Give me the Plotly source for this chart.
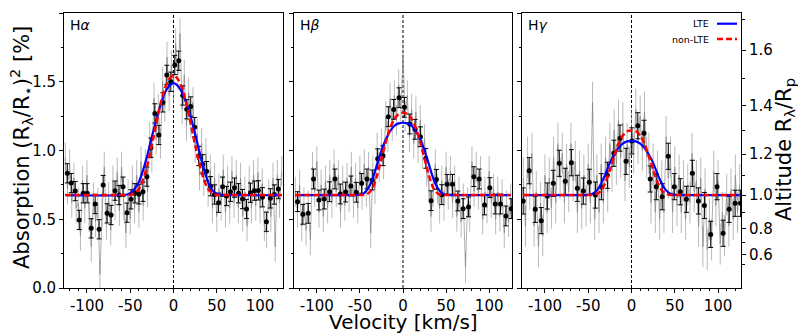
import numpy as np
import plotly.graph_objects as go

# ---------------- data ----------------
panel_labels = ["H<i>α</i>", "H<i>β</i>", "H<i>γ</i>"]

# raw (high resolution) spectra, sampled every 2.5 km/s from -125 to 125
raw_v = np.arange(-125, 125.01, 2.5)
raw_a = [0.95, 0.72, 0.90, 0.62, 0.80, 0.58, 0.62, 0.38, 0.78, 0.58, 0.82, 0.52, 0.30, 0.66, 0.48, 0.62, 0.10,
         0.55, 0.88, 0.46, 0.66, 0.42, 0.78, 0.60, 0.84, 0.56, 0.88, 0.60, 0.40, 0.68, 0.50, 0.78, 0.58, 0.82,
         0.55, 0.92, 0.60, 0.90, 0.70, 1.10, 0.95, 1.38, 1.08, 1.30, 1.05, 1.50, 1.32, 1.68, 1.40, 1.62, 1.45,
         1.78, 1.55, 1.85, 1.30, 1.55, 1.18, 1.42, 1.20, 1.35, 1.02, 1.12, 0.82, 1.05, 0.78, 0.98, 0.70, 0.86,
         0.58, 0.80, 0.52, 0.72, 0.60, 0.86, 0.55, 0.78, 0.58, 0.85, 0.62, 0.82, 0.58, 0.80, 0.52, 0.70, 0.45,
         0.78, 0.58, 0.82, 0.60, 0.84, 0.58, 0.76, 0.45, 0.40, 0.68, 0.52, 0.80, 0.30, 0.82, 0.62, 0.85]
raw_b = [0.70, 0.55, 0.75, 0.45, 0.62, 0.42, 0.60, 0.35, 0.88, 0.70, 0.92, 0.55, 0.75, 0.52, 0.78, 0.58, 0.82,
         0.62, 0.90, 0.70, 0.82, 0.55, 0.78, 0.60, 0.80, 0.66, 0.88, 0.62, 0.80, 0.58, 0.85, 0.68, 0.90, 0.70,
         0.88, 0.40, 0.85, 0.72, 1.02, 0.88, 1.05, 0.90, 1.25, 1.10, 1.38, 1.18, 1.40, 1.22, 1.48, 1.30, 1.68,
         1.25, 1.40, 1.10, 1.30, 1.05, 1.28, 1.02, 1.22, 0.98, 1.08, 0.85, 0.75, 0.52, 0.70, 0.90, 0.72, 0.58,
         0.78, 0.60, 0.88, 0.68, 0.85, 0.62, 0.78, 0.52, 0.70, 0.48, 0.65, 0.15, 0.62, 0.52, 0.92, 0.70, 0.88,
         0.68, 0.85, 0.50, 0.70, 0.58, 0.85, 0.62, 0.72, 0.50, 0.70, 0.52, 0.68, 0.40, 0.60, 0.48, 0.65]
raw_g = [0.80, 0.45, 0.95, 0.72, 0.98, 0.45, 0.70, 0.30, 0.62, 0.38, 0.82, 0.55, 0.80, 0.58, 0.95, 0.62, 1.05,
         0.80, 0.98, 0.62, 0.90, 0.70, 1.05, 0.78, 0.92, 0.55, 0.85, 0.58, 0.82, 0.60, 0.90, 0.62, 1.35, 0.50,
         0.82, 0.55, 0.90, 0.62, 0.95, 0.70, 1.05, 0.85, 1.15, 0.90, 1.22, 0.95, 1.20, 0.78, 1.05, 0.88, 1.15,
         0.98, 1.30, 1.05, 1.25, 1.00, 1.28, 0.95, 0.98, 0.62, 0.90, 0.55, 0.85, 0.50, 0.78, 0.55, 1.10, 0.80,
         0.95, 0.55, 0.88, 0.60, 0.82, 0.55, 0.78, 0.50, 0.75, 0.62, 0.98, 0.70, 0.78, 0.45, 0.80, 0.30, 0.72,
         0.28, 0.50, 0.35, 0.85, 0.60, 0.78, 0.32, 0.55, 0.38, 0.68, 0.45, 0.72, 0.50, 0.82, 0.55, 0.75]
raw_err = [0.11, 0.11, 0.15]

# binned data points
bin_v_a = [-122.7, -118.1, -113.5, -108.9, -104.3, -99.7, -95.1, -90.5, -85.9, -81.3, -76.7, -72.1, -67.5,
           -62.9, -58.3, -53.7, -49.1, -44.5, -39.9, -35.3, -30.7, -26.1, -21.5, -16.9, -12.3, -7.7, -3.1,
           1.5, 6.1, 10.7, 15.3, 19.9, 24.5, 29.1, 33.7, 38.3, 42.9, 47.5, 52.1, 56.7, 61.3, 65.9, 70.5,
           75.1, 79.7, 84.3, 88.9, 93.5, 98.1, 102.7, 107.3, 111.9, 116.5, 121.1]
bin_a = [0.834, 0.763, 0.705, 0.495, 0.689, 0.689, 0.434, 0.611, 0.427, 0.749, 0.543, 0.531, 0.708, 0.676,
         0.737, 0.548, 0.645, 0.689, 0.681, 0.700, 0.810, 1.020, 1.270, 1.113, 1.350, 1.550, 1.500, 1.622,
         1.653, 1.400, 1.300, 1.320, 1.170, 0.960, 0.900, 0.850, 0.740, 0.680, 0.620, 0.737, 0.669, 0.700,
         0.730, 0.689, 0.647, 0.575, 0.693, 0.708, 0.710, 0.660, 0.482, 0.652, 0.680, 0.720]
bin_v_b = [-122.4, -116.2, -110.0, -103.8, -97.6, -91.4, -85.2, -79.0, -72.8, -66.6, -60.4, -54.2, -48.0,
           -41.8, -35.6, -29.4, -23.2, -17.0, -10.8, -4.6, 1.6, 7.8, 14.0, 20.2, 26.4, 32.6, 38.8, 45.0,
           51.2, 57.4, 63.6, 69.8, 76.0, 82.2, 88.4, 94.6, 100.8, 107.0, 113.2, 119.4, 125.6]
bin_b = [0.628, 0.536, 0.543, 0.793, 0.640, 0.647, 0.700, 0.793, 0.684, 0.698, 0.742, 0.696, 0.761, 0.793,
         0.786, 0.940, 0.962, 1.246, 1.299, 1.384, 1.314, 1.193, 1.154, 1.100, 0.943, 0.635, 0.790, 0.679,
         0.754, 0.754, 0.633, 0.577, 0.590, 0.810, 0.793, 0.604, 0.730, 0.611, 0.611, 0.524, 0.577]
bin_v_g = [-125.1, -118.2, -111.2, -104.3, -97.3, -90.4, -83.4, -76.5, -69.5, -62.6, -55.6, -48.7, -41.7,
           -34.8, -27.8, -20.3, -13.3, -6.3, 0.4, 7.3, 14.5, 21.6, 28.6, 35.5, 42.5, 49.4, 56.4, 63.4, 70.3,
           77.3, 84.2, 91.5, 98.8, 105.8, 112.8, 119.7, 126.0]
bin_g = [0.633, 0.853, 0.572, 0.490, 0.669, 0.761, 0.907, 0.776, 0.911, 0.725, 0.705, 0.769, 0.676, 0.737,
         0.820, 0.980, 1.090, 0.921, 1.070, 1.180, 1.125, 0.793, 0.737, 0.664, 0.958, 0.737, 0.700, 0.645,
         0.834, 0.633, 0.600, 0.390, 0.737, 0.398, 0.572, 0.616, 0.616]
bin_err = [0.07, 0.072, 0.095]

# model profiles
mod_v = [-125, -55, -50, -45, -40, -35, -30, -25, -20, -15, -10, -5, 0, 5, 10, 15, 20, 25, 30, 35, 40, 45, 50,
         55, 125]
lte_a = [0.676, 0.678, 0.69, 0.72, 0.77, 0.86, 0.97, 1.10, 1.22, 1.33, 1.42, 1.47, 1.49, 1.47, 1.42, 1.34,
         1.24, 1.12, 0.99, 0.87, 0.77, 0.71, 0.685, 0.678, 0.676]
nlte_a = [0.676, 0.676, 0.677, 0.69, 0.72, 0.79, 0.90, 1.04, 1.19, 1.34, 1.45, 1.52, 1.545, 1.52, 1.45, 1.34,
          1.19, 1.04, 0.90, 0.79, 0.72, 0.69, 0.677, 0.676, 0.676]
lte_b = [0.676, 0.676, 0.678, 0.69, 0.73, 0.80, 0.90, 1.00, 1.08, 1.14, 1.18, 1.197, 1.202, 1.197, 1.18,
         1.14, 1.08, 1.00, 0.90, 0.80, 0.73, 0.69, 0.678, 0.676, 0.676]
nlte_b = [0.676, 0.676, 0.676, 0.677, 0.69, 0.73, 0.82, 0.94, 1.06, 1.16, 1.23, 1.265, 1.275, 1.265, 1.23,
          1.16, 1.06, 0.94, 0.82, 0.73, 0.69, 0.677, 0.676, 0.676, 0.676]
lte_g = [0.676, 0.676, 0.677, 0.685, 0.71, 0.76, 0.83, 0.91, 0.97, 1.02, 1.05, 1.066, 1.07, 1.066, 1.05,
         1.02, 0.97, 0.91, 0.83, 0.76, 0.71, 0.685, 0.677, 0.676, 0.676]
nlte_g = [0.676, 0.676, 0.676, 0.677, 0.685, 0.71, 0.77, 0.86, 0.96, 1.05, 1.11, 1.14, 1.145, 1.14, 1.11,
          1.05, 0.96, 0.86, 0.77, 0.71, 0.685, 0.677, 0.676, 0.676, 0.676]

# right axis: altitude R_lambda/R_p ; absorption = depth * alt^2
planet_depth = 0.676
alt_major = [0.6, 0.8, 1.0, 1.2, 1.4, 1.6]
alt_minor = [0.5, 0.7, 0.9, 1.1, 1.3, 1.5, 1.7]

x_ticks = [-100, -50, 0, 50, 100]
x_ticktext = ["-100", "-50", "0", "50", "100"]
y_ticks = [0.0, 0.5, 1.0, 1.5, 2.0]
y_ticktext = ["0.0", "0.5", "1.0", "1.5", "2.0"]

# ---------------- figure ----------------
OFF = 8                      # page body margin of the browser
W, H = 806 - OFF, 336 - OFF  # figure size
PL, PR, PT, PB = 64, 741, 13, 288   # plot area edges in window pixels
ML, MR, MT, MB = PL - OFF, W - (PR - OFF), PT - OFF, H - (PB - OFF)
PW = W - ML - MR
PH = H - MT - MB


def px2x(p):
    return (p - OFF - ML) / PW


def px2y(p):
    return (H - MB - (p - OFF)) / PH


domains = [[px2x(64), px2x(283)], [px2x(294), px2x(512)], [px2x(522), px2x(741)]]

raws = [raw_a, raw_b, raw_g]
bins_v = [bin_v_a, bin_v_b, bin_v_g]
bins = [bin_a, bin_b, bin_g]
ltes = [lte_a, lte_b, lte_g]
nltes = [nlte_a, nlte_b, nlte_g]

fig = go.Figure()
font = "DejaVu Sans"

for i in range(3):
    xa = "x" if i == 0 else f"x{i+1}"
    ya = "y" if i == 0 else f"y{i+1}"
    fig.add_trace(go.Scatter(x=raw_v, y=raws[i], mode="lines", xaxis=xa, yaxis=ya,
                             line=dict(color="rgba(130,130,130,0.65)", width=1),
                             error_y=dict(type="constant", value=raw_err[i], color="rgba(130,130,130,0.55)",
                                          thickness=1, width=0),
                             showlegend=False, hoverinfo="skip"))
    fig.add_trace(go.Scatter(x=bins_v[i], y=bins[i], mode="markers", xaxis=xa, yaxis=ya,
                             marker=dict(color="black", size=5),
                             error_y=dict(type="constant", value=bin_err[i], color="black", thickness=1, width=2.5),
                             showlegend=False))
    fig.add_trace(go.Scatter(x=mod_v, y=ltes[i], mode="lines", xaxis=xa, yaxis=ya,
                             line=dict(color="#0000ff", width=2.2, shape="spline", smoothing=0.8),
                             showlegend=False))
    fig.add_trace(go.Scatter(x=mod_v, y=nltes[i], mode="lines", xaxis=xa, yaxis=ya,
                             line=dict(color="#ff0000", width=2.5, dash="6px,3px", shape="spline", smoothing=0.8),
                             showlegend=False))
    fig.add_shape(type="line", xref=xa, yref=f"{ya} domain", x0=0, x1=0, y0=0, y1=1,
                  line=dict(color="black", width=1, dash="3px,2px"), layer="below")

    axis_common = dict(showline=True, linecolor="black", linewidth=1, mirror=True, showgrid=False,
                       zeroline=False, ticks="outside", ticklen=4, tickcolor="black",
                       tickfont=dict(family=font, size=15, color="black"))
    fig.layout[f"xaxis{i+1 if i else ''}"] = dict(
        axis_common, domain=domains[i], range=[-126.5, 126.5], anchor=ya,
        tickmode="array", tickvals=x_ticks, ticktext=x_ticktext,
        minor=dict(tickmode="array", tickvals=[-120, -110, -90, -80, -70, -60, -40, -30, -20, -10, 10, 20, 30,
                                                 40, 60, 70, 80, 90, 110, 120],
                   ticks="outside", ticklen=2, tickcolor="black"))
    fig.layout[f"yaxis{i+1 if i else ''}"] = dict(
        axis_common, domain=[0, 1], range=[0, 2.0], anchor=xa,
        tickmode="array", tickvals=y_ticks, ticktext=y_ticktext, showticklabels=(i == 0),
        minor=dict(tickmode="array", tickvals=[0.25, 0.75, 1.25, 1.75], ticks="outside", ticklen=2.5,
                   tickcolor="black"))

# right-hand altitude axis
fig.add_trace(go.Scatter(x=[None], y=[None], xaxis="x3", yaxis="y4", showlegend=False))
fig.layout["yaxis4"] = dict(
    overlaying="y3", anchor="x3", side="right", range=[0, 2.0], showgrid=False, zeroline=False,
    showline=False, ticks="outside", ticklen=4, tickcolor="black",
    tickfont=dict(family=font, size=15, color="black"),
    tickmode="array", tickvals=[planet_depth * a * a for a in alt_major],
    ticktext=[f"{a:.1f}" for a in alt_major],
    minor=dict(tickmode="array", tickvals=[planet_depth * a * a for a in alt_minor], ticks="outside",
               ticklen=2.5, tickcolor="black"))

ann = []
for i, lab in enumerate(panel_labels):
    ann.append(dict(text=lab, xref="paper", yref="paper", x=domains[i][0] + 4 / PW, y=px2y(15),
                    xanchor="left", yanchor="top", showarrow=False,
                    font=dict(family=font, size=14, color="black")))
ann.append(dict(text="Absorption (R<sub>λ</sub>/R<sub>⋆</sub>)<sup>2</sup> [%]", xref="paper", yref="paper",
                x=px2x(21), y=px2y(148), xanchor="center", yanchor="middle", textangle=-90, showarrow=False,
                font=dict(family=font, size=21, color="black")))
ann.append(dict(text="Velocity [km/s]", xref="paper", yref="paper", x=px2x(403), y=px2y(321.5),
                xanchor="center", yanchor="middle", showarrow=False,
                font=dict(family=font, size=20, color="black")))
ann.append(dict(text="Altitude R<sub>λ</sub>/R<sub>p</sub>", xref="paper", yref="paper", x=px2x(785),
                y=px2y(150), xanchor="center", yanchor="middle", textangle=-90, showarrow=False,
                font=dict(family=font, size=21, color="black")))
# legend (text left of line, like matplotlib markerfirst=False)
for txt, yp in [("LTE", 23.7), ("non-LTE", 39)]:
    ann.append(dict(text=txt, xref="paper", yref="paper", x=px2x(711), y=px2y(yp), xanchor="right",
                    yanchor="middle", showarrow=False, font=dict(family=font, size=9.5, color="black")))
fig.add_shape(type="line", xref="paper", yref="paper", x0=px2x(717), x1=px2x(737), y0=px2y(23.7),
              y1=px2y(23.7), line=dict(color="#0000ff", width=2.2))
fig.add_shape(type="line", xref="paper", yref="paper", x0=px2x(717), x1=px2x(737), y0=px2y(39),
              y1=px2y(39), line=dict(color="#ff0000", width=2.5, dash="6px,3px"))

fig.update_layout(width=W, height=H, margin=dict(l=ML, r=MR, t=MT, b=MB, autoexpand=False),
                  plot_bgcolor="white", paper_bgcolor="white", annotations=ann, showlegend=False,
                  font=dict(family=font, color="black"))

fig.write_html("out.html")
